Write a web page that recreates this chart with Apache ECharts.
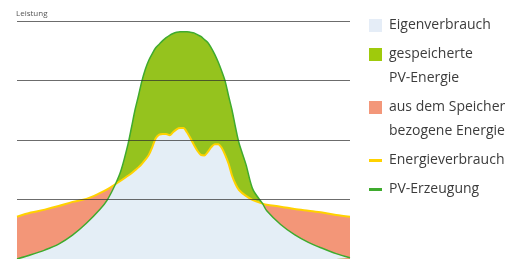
<!DOCTYPE html>
<html>
<head>
<meta charset="utf-8">
<script src="https://cdn.jsdelivr.net/npm/echarts@6/dist/echarts.min.js"></script>
<style>
    html, body { margin: 0; padding: 0; background: #fff; }
    #chart { width: 512px; height: 259px; }
</style>
</head>
<body>
<div id="chart"></div>
<script>
// Tagesverlauf (Stunden), um die Mittagsspitze dichter
var hours = [0, 1, 2, 3, 4, 5, 6, 6.5, 7.1, 7.5,
    8, 8.25, 8.5, 8.75, 9, 9.25, 9.5, 9.75, 10, 10.25, 10.5, 10.75, 11, 11.25, 11.5, 11.75,
    12, 12.25, 12.5, 12.75, 13, 13.25, 13.5, 13.75, 14, 14.25, 14.5, 14.75, 15, 15.25, 15.5, 15.75, 16,
    16.5, 17, 17.7, 18, 19, 20, 21, 22, 23, 24];
// PV-Erzeugung
var pvValues = [0, 0.07, 0.15, 0.25, 0.40, 0.60, 0.84, 0.99, 1.26, 1.49,
    1.93, 2.21, 2.50, 2.74, 2.99, 3.19, 3.34, 3.45, 3.55, 3.61, 3.67, 3.72, 3.76, 3.79, 3.81, 3.82,
    3.82, 3.82, 3.81, 3.80, 3.77, 3.74, 3.69, 3.64, 3.55, 3.44, 3.31, 3.16, 2.99, 2.74, 2.50, 2.21, 1.95,
    1.59, 1.17, 0.93, 0.81, 0.58, 0.41, 0.28, 0.18, 0.09, 0.02];
// Energieverbrauch
var consValues = [0.71, 0.78, 0.83, 0.89, 0.96, 1.01, 1.11, 1.17, 1.26, 1.32,
    1.40, 1.44, 1.49, 1.54, 1.60, 1.67, 1.75, 1.88, 2.03, 2.09, 2.10, 2.10, 2.08, 2.13, 2.18, 2.20,
    2.20, 2.13, 2.03, 1.92, 1.82, 1.75, 1.74, 1.80, 1.88, 1.93, 1.93, 1.87, 1.75, 1.60, 1.40, 1.26, 1.16,
    1.06, 0.99, 0.93, 0.91, 0.88, 0.84, 0.81, 0.78, 0.74, 0.71];
var yTicks = [0, 1, 2, 3, 4];
var legendNames = ['Eigenverbrauch', 'gespeicherte\nPV-Energie', 'aus dem Speicher\nbezogene Energie', 'Energieverbrauch', 'PV-Erzeugung'];

var fontFamily = '"Open Sans", "Noto Sans", sans-serif';

function pairs(values) {
    return hours.map(function (h, i) { return [h, values[i]]; });
}

/**
 * Eigenverbrauch = kleinerer Wert aus Verbrauch und Erzeugung
 */
function selfUse() {
    return consValues.map(function (v, i) { return Math.min(v, pvValues[i]); });
}

/**
 * Legende rechts (von Hand, damit mehrzeilige Einträge oben bündig sind)
 */
function buildLegend() {
    var items = [
        { type: 'box', color: '#e5edf7' },
        { type: 'box', color: '#9fca0c' },
        { type: 'box', color: '#f3977a' },
        { type: 'line', color: '#ffd200' },
        { type: 'line', color: '#3fab2e' }
    ];
    var els = [];
    var y = 25;
    items.forEach(function (it, i) {
        if (it.type == 'box') {
            els.push({ type: 'rect', shape: { x: 369, y: y - 6, width: 13, height: 13 }, style: { fill: it.color } });
        } else {
            els.push({ type: 'rect', shape: { x: 369, y: y - 1, width: 13, height: 3 }, style: { fill: it.color } });
        }
        var lines = legendNames[i].split('\n');
        lines.forEach(function (txt, k) {
            els.push({
                type: 'text', x: 389, y: y + k * 24,
                style: { text: txt, fill: '#3c3c3c', font: '14px ' + fontFamily, verticalAlign: 'middle' }
            });
        });
        y += (lines.length - 1) * 24 + 29;
    });
    els.push({
        type: 'text', x: 16, y: 14,
        style: { text: 'Leistung', fill: '#555', font: '8px ' + fontFamily, verticalAlign: 'middle' }
    });
    return els;
}

function initChart() {
    var myChart = echarts.init(document.getElementById('chart'));
    var smooth = 0.3;
    var option = {
        animation: false,
        grid: { left: 17, top: 21, width: 333, height: 242 },
        xAxis: {
            type: 'value', min: hours[0], max: hours[hours.length - 1],
            axisLine: { show: false }, axisTick: { show: false }, axisLabel: { show: false }, splitLine: { show: false }
        },
        yAxis: {
            type: 'value', min: yTicks[0], max: yTicks[yTicks.length - 1], interval: 1, z: 10,
            axisLine: { show: false }, axisTick: { show: false }, axisLabel: { show: false },
            splitLine: { show: true, lineStyle: { color: 'rgba(45,45,45,0.7)', width: 1 } }
        },
        graphic: buildLegend(),
        series: [
            {
                name: 'aus dem Speicher\nbezogene Energie', type: 'line', data: pairs(consValues), smooth: smooth,
                symbol: 'none', lineStyle: { width: 0 }, areaStyle: { color: '#f39678', opacity: 1 }
            },
            {
                name: 'gespeicherte\nPV-Energie', type: 'line', data: pairs(pvValues), smooth: smooth,
                symbol: 'none', lineStyle: { width: 0 }, areaStyle: { color: '#95c31e', opacity: 1 }
            },
            {
                name: 'Eigenverbrauch', type: 'line', data: pairs(selfUse()), smooth: smooth,
                symbol: 'none', lineStyle: { width: 0 }, areaStyle: { color: '#e4eef6', opacity: 1 }
            },
            {
                name: 'Energieverbrauch', type: 'line', data: pairs(consValues), smooth: smooth,
                symbol: 'none', lineStyle: { color: '#ffd200', width: 2 }
            },
            {
                name: 'PV-Erzeugung', type: 'line', data: pairs(pvValues), smooth: smooth,
                symbol: 'none', lineStyle: { color: '#3fab2e', width: 1.5 }
            }
        ]
    };
    myChart.setOption(option);
}

initChart();
</script>
</body>
</html>
